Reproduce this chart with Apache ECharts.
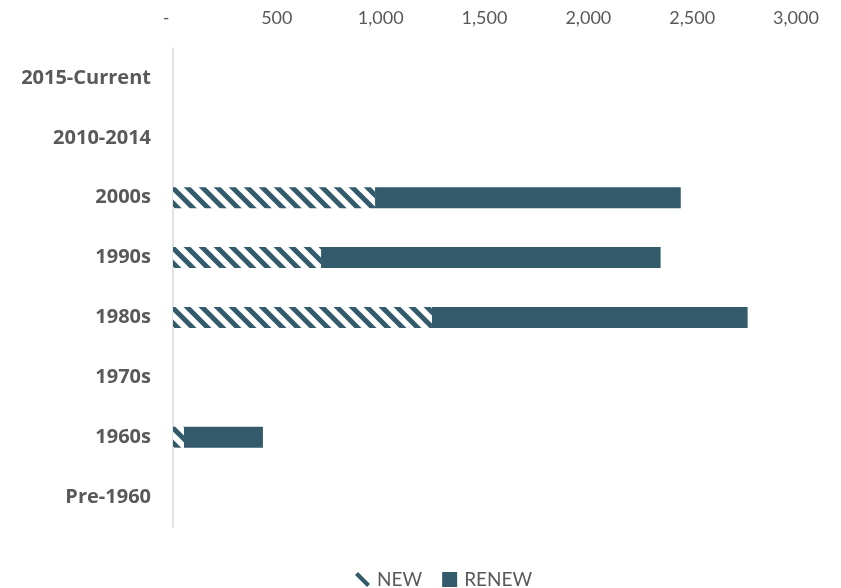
<!DOCTYPE html>
<html>
<head>
<meta charset="utf-8">
<script src="https://cdn.jsdelivr.net/npm/echarts@6/dist/echarts.min.js"></script>
<style>
  html, body { margin: 0; padding: 0; background: #fff; }
  #chart { width: 841px; height: 588px; }
</style>
</head>
<body>
<div id="chart"></div>
<script>
const categories = ['Pre-1960', '1960s', '1970s', '1980s', '1990s', '2000s', '2010-2014', '2015-Current'];
const newValues = [0, 53, 0, 1247, 713, 973, 0, 0];
const renewValues = [0, 380, 0, 1520, 1635, 1472, 0, 0];
const tickValues = [0, 500, 1000, 1500, 2000, 2500, 3000];

const DARK = '#335B6B';
const GRAY = '#595959';

function makeHatch() {
  const s = 15;
  const c = document.createElement('canvas');
  c.width = s; c.height = s;
  const ctx = c.getContext('2d');
  ctx.fillStyle = '#ffffff';
  ctx.fillRect(0, 0, s, s);
  ctx.strokeStyle = DARK;
  ctx.lineWidth = 5;
  ctx.beginPath();
  ctx.moveTo(-s, -s); ctx.lineTo(2 * s, 2 * s);
  ctx.moveTo(-s, 0); ctx.lineTo(s, 2 * s);
  ctx.moveTo(0, -s); ctx.lineTo(2 * s, s);
  ctx.stroke();
  return c;
}
const hatch = makeHatch();

function fmt(v) {
  if (v === 0) return '-   ';
  return v.toString().replace(/\B(?=(\d{3})+(?!\d))/g, ',');
}

const chart = echarts.init(document.getElementById('chart'));
chart.setOption({
  animation: false,
  textStyle: { fontFamily: 'Lato' },
  grid: { left: 173, right: 45, top: 48, bottom: 61, containLabel: false },
  xAxis: {
    type: 'value',
    position: 'top',
    min: tickValues[0],
    max: tickValues[tickValues.length - 1],
    interval: tickValues[1] - tickValues[0],
    axisLine: { show: false },
    axisTick: { show: false },
    splitLine: { show: false },
    axisLabel: {
      color: GRAY,
      fontSize: 18,
      margin: 21,
      formatter: fmt
    }
  },
  yAxis: {
    type: 'category',
    data: categories,
    axisLine: { show: true, lineStyle: { color: '#d9d9d9', width: 1.5 } },
    axisTick: { show: false },
    axisLabel: {
      color: GRAY,
      fontSize: 20,
      fontWeight: 'bold',
      fontFamily: 'Open Sans',
      margin: 22
    }
  },
  legend: {
    left: 350,
    top: 565,
    itemGap: 20,
    itemWidth: 15,
    itemHeight: 15,
    textStyle: { color: GRAY, fontSize: 19, fontFamily: 'Lato', padding: [0, 0, 0, 2] },
    data: [
      { name: 'NEW', icon: 'path://M0,2 L2,0 L10,8 L8,10 Z', itemStyle: { color: DARK } },
      { name: 'RENEW', icon: 'rect', itemStyle: { color: DARK } }
    ]
  },
  series: [
    {
      name: 'NEW',
      type: 'bar',
      stack: 'total',
      barWidth: 21,
      data: newValues,
      itemStyle: { color: { image: hatch, repeat: 'repeat' } }
    },
    {
      name: 'RENEW',
      type: 'bar',
      stack: 'total',
      barWidth: 21,
      data: renewValues,
      itemStyle: { color: DARK }
    }
  ]
});
</script>
</body>
</html>
